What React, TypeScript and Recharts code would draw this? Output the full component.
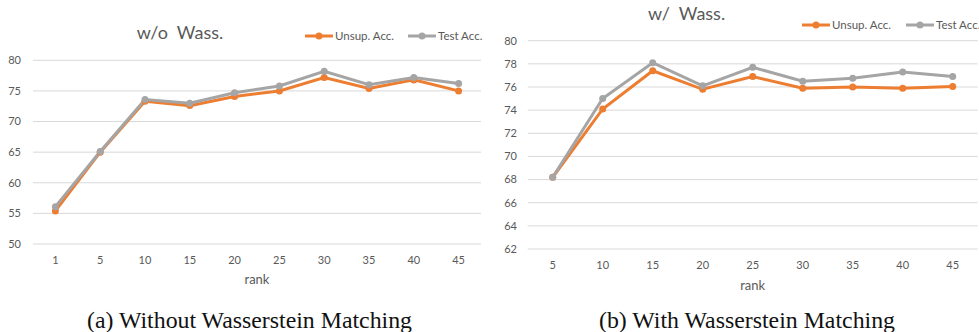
import React from 'react';
import { LineChart, Line, XAxis, YAxis, CartesianGrid, Legend } from 'recharts';

// Rank settings on the x axis
const ranksWithout = ['1', '5', '10', '15', '20', '25', '30', '35', '40', '45'];
const ranksWith = ['5', '10', '15', '20', '25', '30', '35', '40', '45'];

// Accuracy (%) without Wasserstein matching
const unsupWithout = [55.4, 65.0, 73.3, 72.6, 74.1, 75.0, 77.2, 75.4, 76.8, 75.0];
const testWithout = [56.1, 65.1, 73.6, 73.0, 74.7, 75.8, 78.2, 76.0, 77.2, 76.2];

// Accuracy (%) with Wasserstein matching
const unsupWith = [68.2, 74.1, 77.4, 75.8, 76.9, 75.9, 76.0, 75.9, 76.05];
const testWith = [68.2, 75.0, 78.1, 76.1, 77.7, 76.5, 76.75, 77.3, 76.9];

// Axis ticks
const ticksWithout = [50, 55, 60, 65, 70, 75, 80];
const ticksWith = [62, 64, 66, 68, 70, 72, 74, 76, 78, 80];

const seriesNames = ['Unsup. Acc.', 'Test Acc.'];
const titles = ['w/o  Wass.', 'w/  Wass.'];
const captions = ['(a) Without Wasserstein Matching', '(b) With Wasserstein Matching'];
const axisTitle = 'rank';

const ORANGE = '#ED7D31';
const GRAY = '#A5A5A5';
const GRID = '#D9D9D9';
const TEXT = '#595959';
const FONT = 'Lato, "Open Sans", sans-serif';

const dataWithout = ranksWithout.map((rank, i) => ({
  rank,
  unsup: unsupWithout[i],
  test: testWithout[i],
}));
const dataWith = ranksWith.map((rank, i) => ({
  rank,
  unsup: unsupWith[i],
  test: testWith[i],
}));

const tickStyle = { fill: TEXT, fontSize: 11, fontFamily: FONT };

function makeLegend(gap: number) {
  return function SeriesLegend(props: any) {
    const payload = [...(props.payload || [])].sort(
      (a: any, b: any) => seriesNames.indexOf(a.value) - seriesNames.indexOf(b.value)
    );
    return (
      <svg width={200} height={16} style={{ display: 'block', overflow: 'visible' }}>
        {payload.map((entry: any, i: number) => {
          const x0 = i * gap;
          return (
            <g key={entry.value}>
              <line x1={x0} y1={8} x2={x0 + 28} y2={8} stroke={entry.color} strokeWidth={3} />
              <circle cx={x0 + 14} cy={8} r={3.5} fill={entry.color} />
              <text x={x0 + 30} y={12} fill={TEXT} fontSize={11.5} fontFamily={FONT}>
                {entry.value}
              </text>
            </g>
          );
        })}
      </svg>
    );
  };
}

export default function App() {
  const dotOrange = { r: 3.5, fill: ORANGE, stroke: ORANGE, strokeWidth: 0 };
  const dotGray = { r: 3.5, fill: GRAY, stroke: GRAY, strokeWidth: 0 };
  return (
    <div
      style={{
        position: 'absolute',
        left: 0,
        top: 0,
        width: 979,
        height: 332,
        background: '#fff',
        overflow: 'hidden',
      }}
    >
      <div style={{ position: 'absolute', left: 0, top: 0 }}>
        <LineChart
          width={490}
          height={300}
          data={dataWithout}
          margin={{ top: 60.3, right: 9, bottom: 16, left: 3 }}
        >
          <CartesianGrid vertical={false} stroke={GRID} strokeWidth={1} />
          <XAxis
            dataKey="rank"
            axisLine={false}
            tickLine={false}
            tickSize={0}
            tickMargin={12}
            height={40}
            padding={{ left: 22.4, right: 22.4 }}
            tick={tickStyle}
            interval={0}
          />
          <YAxis
            domain={[50, 80]}
            ticks={ticksWithout}
            axisLine={false}
            tickLine={false}
            tickSize={0}
            tickMargin={12}
            width={30}
            tick={tickStyle}
          />
          <Legend
            layout="horizontal"
            verticalAlign="middle"
            align="center"
            wrapperStyle={{ left: 305, top: 28, width: 200 }}
            content={makeLegend(103)}
          />
          <Line
            dataKey="unsup"
            name={seriesNames[0]}
            stroke={ORANGE}
            strokeWidth={3}
            dot={dotOrange}
            activeDot={false}
            isAnimationActive={false}
          />
          <Line
            dataKey="test"
            name={seriesNames[1]}
            stroke={GRAY}
            strokeWidth={3}
            dot={dotGray}
            activeDot={false}
            isAnimationActive={false}
          />
        </LineChart>
      </div>

      <div style={{ position: 'absolute', left: 490, top: 0 }}>
        <LineChart
          width={489}
          height={300}
          data={dataWith}
          margin={{ top: 40.7, right: 1.3, bottom: 11, left: 0 }}
        >
          <CartesianGrid vertical={false} stroke={GRID} strokeWidth={1} />
          <XAxis
            dataKey="rank"
            axisLine={false}
            tickLine={false}
            tickSize={0}
            tickMargin={12.5}
            height={40}
            padding={{ left: 25, right: 25 }}
            tick={tickStyle}
            interval={0}
          />
          <YAxis
            domain={[62, 80]}
            ticks={ticksWith}
            axisLine={false}
            tickLine={false}
            tickSize={0}
            tickMargin={10.7}
            width={37.7}
            tick={tickStyle}
          />
          <Legend
            layout="horizontal"
            verticalAlign="middle"
            align="center"
            wrapperStyle={{ left: 311.7, top: 16.5, width: 200 }}
            content={makeLegend(104)}
          />
          <Line
            dataKey="unsup"
            name={seriesNames[0]}
            stroke={ORANGE}
            strokeWidth={3}
            dot={dotOrange}
            activeDot={false}
            isAnimationActive={false}
          />
          <Line
            dataKey="test"
            name={seriesNames[1]}
            stroke={GRAY}
            strokeWidth={3}
            dot={dotGray}
            activeDot={false}
            isAnimationActive={false}
          />
        </LineChart>
      </div>

      <svg
        width={979}
        height={332}
        style={{ position: 'absolute', left: 0, top: 0, pointerEvents: 'none' }}
      >
        <text x={136.7} y={39} fill={TEXT} fontSize={18} fontFamily={FONT} style={{ whiteSpace: 'pre' }} xmlSpace="preserve">
          {titles[0]}
        </text>
        <text x={648} y={20} fill={TEXT} fontSize={18} fontFamily={FONT} style={{ whiteSpace: 'pre' }} xmlSpace="preserve">
          {titles[1]}
        </text>
        <text x={257} y={284} fill={TEXT} fontSize={13} fontFamily={FONT} textAnchor="middle">
          {axisTitle}
        </text>
        <text x={752.7} y={290} fill={TEXT} fontSize={13} fontFamily={FONT} textAnchor="middle">
          {axisTitle}
        </text>
        <text
          x={87}
          y={328}
          fill="#111"
          fontSize={23.5}
          fontFamily='"Liberation Serif", "Times New Roman", serif'
          textLength={325}
          lengthAdjust="spacingAndGlyphs"
        >
          {captions[0]}
        </text>
        <text
          x={599}
          y={328}
          fill="#111"
          fontSize={23.5}
          fontFamily='"Liberation Serif", "Times New Roman", serif'
          textLength={296}
          lengthAdjust="spacingAndGlyphs"
        >
          {captions[1]}
        </text>
      </svg>
    </div>
  );
}
